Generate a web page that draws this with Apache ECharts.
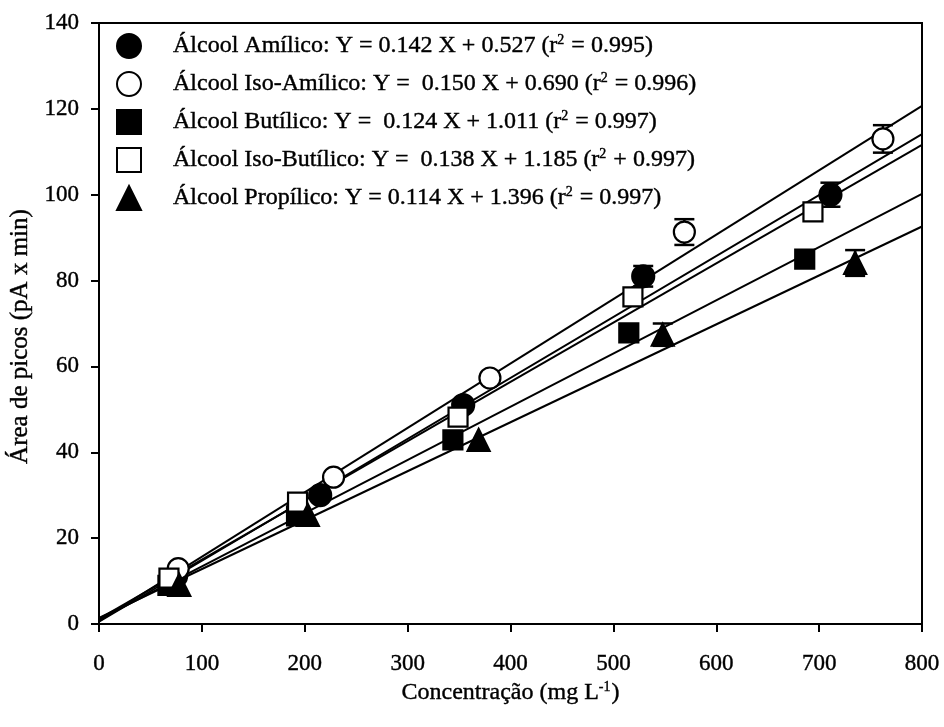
<!DOCTYPE html>
<html>
<head>
<meta charset="utf-8">
<script src="https://cdn.jsdelivr.net/npm/echarts@6/dist/echarts.min.js"></script>
<style>
html,body{margin:0;padding:0;background:#fff;}
#chart{width:944px;height:727px;}
</style>
</head>
<body>
<div id="chart"></div>
<script>
// ---- data ----
const seriesNames = ['Álcool Amílico', 'Álcool Iso-Amílico', 'Álcool Butílico', 'Álcool Iso-Butílico', 'Álcool Propílico'];
const eqTexts = ['Y = 0.142 X + 0.527', 'Y =  0.150 X + 0.690', 'Y =  0.124 X + 1.011', 'Y =  0.138 X + 1.185', 'Y = 0.114 X + 1.396'];
const r2Texts = ['= 0.995', '= 0.996', '= 0.997', '+ 0.997', '= 0.997'];
const slopes = [0.142, 0.150, 0.124, 0.138, 0.114];
const intercepts = [0.527, 0.690, 1.011, 1.185, 1.396];
const fitRange = [0, 800];

const xAmil = [75, 215, 354, 529, 711];
const yAmil = [11.2, 30.0, 51.0, 81.0, 100.0];
const eAmil = [0, 0, 1.0, 2.4, 2.8];

const xIsoAmil = [77, 228, 380, 569, 762];
const yIsoAmil = [12.9, 34.2, 57.3, 91.3, 113.0];
const eIsoAmil = [0, 0, 0, 3.0, 3.2];

const xBut = [67, 192, 344, 515, 686];
const yBut = [9.0, 25.2, 42.9, 67.8, 85.0];
const eBut = [0, 0, 0, 0, 0];

const xIsoBut = [68, 193, 349, 519, 694];
const yIsoBut = [10.7, 28.4, 48.2, 76.2, 96.0];
const eIsoBut = [0, 0, 0, 0, 1.5];

const xProp = [78, 203, 369, 548, 735];
const yProp = [9.1, 25.4, 42.9, 67.4, 84.1];
const eProp = [0, 0, 0, 2.6, 3.0];

const xTicks = [0, 100, 200, 300, 400, 500, 600, 700, 800];
const yTicks = [0, 20, 40, 60, 80, 100, 120, 140];

// ---- styling ----
const FONT = "'Liberation Serif', 'DejaVu Serif', serif";
const HEAVY = { textBorderColor: '#000', textBorderWidth: 0.4 };
const xs = [xAmil, xIsoAmil, xBut, xIsoBut, xProp];
const ys = [yAmil, yIsoAmil, yBut, yIsoBut, yProp];
const es = [eAmil, eIsoAmil, eBut, eIsoBut, eProp];
const symbols = ['circle', 'circle', 'rect', 'rect', 'triangle'];
const symSizes = [22, 21, 19, 19, 22];
const fills = ['#000', '#fff', '#000', '#fff', '#000'];
const supStyle = Object.assign({ fontFamily: FONT, fontSize: 14, color: '#000', padding: [0, 1, 11, 0], verticalAlign: 'bottom' }, HEAVY);

const series = [];
// regression lines
for (let i = 0; i < 5; i++) {
  series.push({
    type: 'line', name: 'fit' + i, silent: true, showSymbol: false, symbol: 'none',
    data: fitRange.map(x => [x, slopes[i] * x + intercepts[i]]),
    lineStyle: { color: '#000', width: 2 }, z: 1, animation: false
  });
}
// error bars
const errData = [];
for (let i = 0; i < 5; i++) {
  for (let j = 0; j < xs[i].length; j++) {
    if (es[i][j] > 0) errData.push([xs[i][j], ys[i][j], es[i][j]]);
  }
}
series.push({
  type: 'custom', name: 'err', silent: true, z: 2, animation: false,
  data: errData,
  renderItem: function (params, api) {
    const x = api.value(0), y = api.value(1), e = api.value(2);
    const top = api.coord([x, y + e]);
    const bot = api.coord([x, y - e]);
    const hw = 10;
    const st = { stroke: '#000', lineWidth: 2.5 };
    return { type: 'group', children: [
      { type: 'line', shape: { x1: top[0], y1: top[1], x2: bot[0], y2: bot[1] }, style: st },
      { type: 'line', shape: { x1: top[0] - hw, y1: top[1], x2: top[0] + hw, y2: top[1] }, style: st },
      { type: 'line', shape: { x1: bot[0] - hw, y1: bot[1], x2: bot[0] + hw, y2: bot[1] }, style: st }
    ]};
  }
});
// markers
for (let i = 0; i < 5; i++) {
  series.push({
    type: 'scatter', name: seriesNames[i], z: 3, animation: false,
    symbol: symbols[i], symbolSize: symSizes[i],
    data: xs[i].map((x, j) => [x, ys[i][j]]),
    itemStyle: { color: fills[i], borderColor: '#000', borderWidth: 2.2, opacity: 1 }
  });
}

const chart = echarts.init(document.getElementById('chart'), null, { renderer: 'canvas' });
chart.setOption({
  backgroundColor: '#fff',
  animation: false,
  grid: { left: 98, top: 23, right: 22, bottom: 103, show: true, borderColor: '#000', borderWidth: 2, backgroundColor: 'transparent' },
  legend: {
    orient: 'vertical', left: 111, top: 28, itemGap: 12, itemWidth: 24, itemHeight: 24,
    selectedMode: false,
    data: seriesNames.map((n, i) => ({ name: n, icon: symbols[i],
      itemStyle: { color: fills[i], borderColor: '#000', borderWidth: 2 } })),
    formatter: function (name) {
      const i = seriesNames.indexOf(name);
      return name + ': ' + eqTexts[i] + ' (r{sup|2} ' + r2Texts[i] + ')';
    },
    textStyle: Object.assign({
      fontFamily: FONT, fontSize: 24, color: '#000', padding: [0, 0, 0, 27], lineHeight: 25.5,
      rich: { sup: supStyle }
    }, HEAVY)
  },
  xAxis: {
    type: 'value', min: 0, max: 800, interval: 100,
    name: 'Concentração (mg L{sup|-1})', nameLocation: 'middle', nameGap: 53,
    nameTextStyle: Object.assign({ fontFamily: FONT, fontSize: 24, color: '#000', rich: { sup: supStyle } }, HEAVY),
    axisLine: { lineStyle: { color: '#000', width: 2 } },
    axisTick: { show: true, inside: false, length: 8, lineStyle: { color: '#000', width: 2 } },
    axisLabel: Object.assign({ fontFamily: FONT, fontSize: 23, color: '#000', margin: 28,
      formatter: v => String(xTicks[xTicks.indexOf(v)]) }, HEAVY),
    splitLine: { show: false }
  },
  yAxis: {
    type: 'value', min: 0, max: 140, interval: 20,
    name: 'Área de picos (pA x min)', nameLocation: 'middle', nameGap: 63,
    nameTextStyle: Object.assign({ fontFamily: FONT, fontSize: 25, color: '#000', padding: [0, 26, 0, 0] }, HEAVY),
    axisLine: { lineStyle: { color: '#000', width: 2 } },
    axisTick: { show: true, inside: false, length: 8, lineStyle: { color: '#000', width: 2 } },
    axisLabel: Object.assign({ fontFamily: FONT, fontSize: 23, color: '#000', margin: 20,
      formatter: v => String(yTicks[yTicks.indexOf(v)]) }, HEAVY),
    splitLine: { show: false }
  },
  series: series
});
</script>
</body>
</html>
